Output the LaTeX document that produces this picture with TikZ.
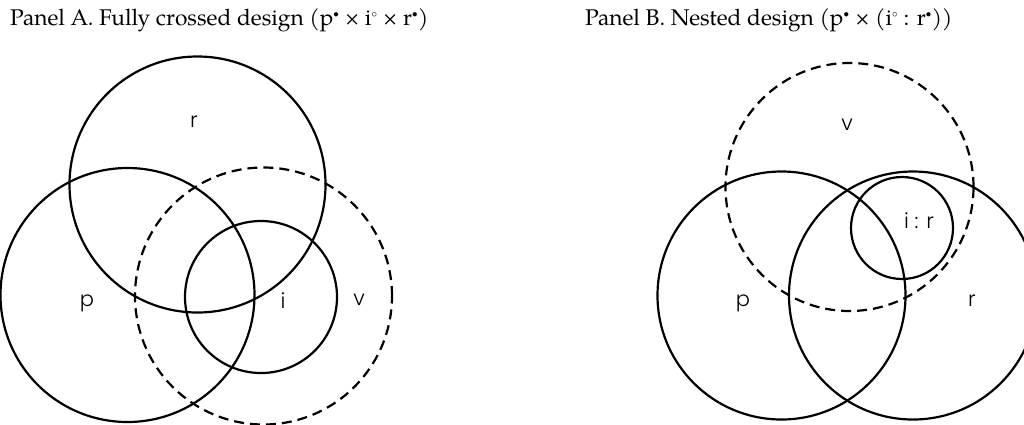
\documentclass[tikz,border=0pt]{standalone}
\usepackage{fontspec}
\newfontfamily\titlefont{texgyrepagella-regular.otf}
\newfontfamily\labfont{Poppins Light}
\newcommand{\myfdot}{$^{\scriptscriptstyle\bullet}$}
\newcommand{\myodot}{$^{\scriptscriptstyle\circ}$}
\begin{document}
\begin{tikzpicture}[x=1pt,y=-1pt,
  set/.style={circle,draw,line width=2.2pt,inner sep=0pt,minimum size=#1},
  dset/.style={set=#1,dash pattern=on 10pt off 6pt},
  lab/.style={font=\labfont\fontsize{21}{21}\selectfont,inner sep=0pt},
  ttl/.style={font=\titlefont\fontsize{22.7}{26}\selectfont,anchor=west,inner sep=0pt}]
\useasboundingbox (0,0) rectangle (1024,424);
\clip (0,0) rectangle (1024,424);
% Panel A
\node[ttl] (tA) at (10,20) {Panel A. Fully crossed design (p\myfdot{} × i\myodot{} × r\myfdot)};
\node[set=256pt] (rA) at (197.5,184.5) {};
\node[set=254pt] (pA) at (127.5,295) {};
\node[set=152pt] (iA) at (261,297) {};
\node[dset=257pt] (vA) at (263.5,296) {};
\node[lab] (lrA) at (194,122) {r};
\node[lab] (lpA) at (87,303) {p};
\node[lab] (liA) at (283,301) {i};
\node[lab] (lvA) at (359,300) {v};
% Panel B
\node[ttl] (tB) at (585,20) {Panel B. Nested design (p\myfdot{} × (i\myodot{} : r\myfdot))};
\node[dset=248pt] (vB) at (849.5,187) {};
\node[set=248pt] (pB) at (781.5,295.5) {};
\node[set=248pt] (rB) at (913,295.5) {};
\node[set=102pt] (irB) at (902,228) {};
\node[lab] (lvB) at (847,125) {v};
\node[lab] (lirB) at (919,221) {i : r};
\node[lab] (lpB) at (743,303) {p};
\node[lab] (lrB) at (972,301) {r};
\end{tikzpicture}
\end{document}
